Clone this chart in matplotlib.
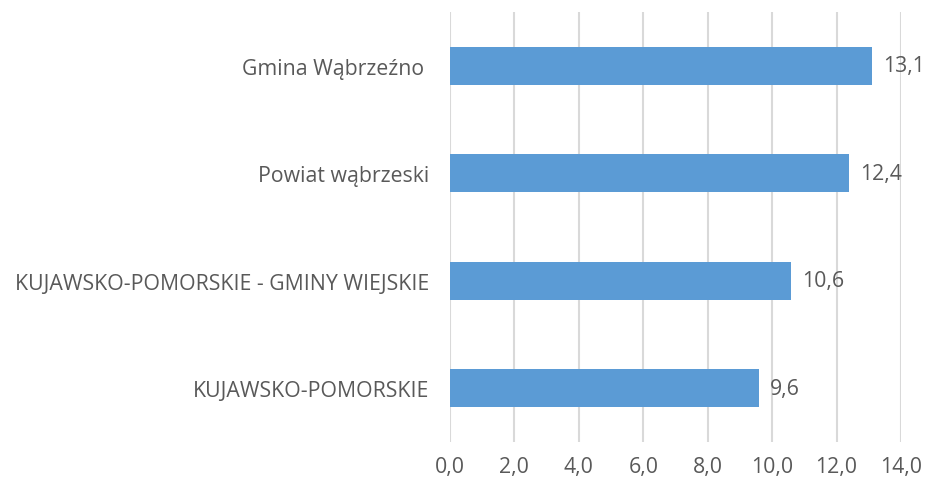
import matplotlib
matplotlib.use("Agg")
import matplotlib.pyplot as plt

categories = ["KUJAWSKO-POMORSKIE", "KUJAWSKO-POMORSKIE - GMINY WIEJSKIE",
              "Powiat wąbrzeski", "Gmina Wąbrzeźno "]
values = [9.6, 10.6, 12.4, 13.1]
xticks = [0, 2, 4, 6, 8, 10, 12, 14]

plt.rcParams['font.family'] = ['Open Sans', 'DejaVu Sans']
plt.rcParams['font.stretch'] = 'normal'
txt = '#595959'
fs = 15.3

fig = plt.figure(figsize=(9.32, 4.81), dpi=100)
ax = fig.add_axes([0.4828, 0.079, 0.4839, 0.894])

y = range(len(categories))
ax.barh(y, values, height=0.355, color='#5b9bd5', zorder=3)
for yi, v in zip(y, values):
    ax.annotate(f"{v:.1f}".replace('.', ','), (v, yi), xytext=(8, 0),
                textcoords='offset points', va='center', ha='left',
                fontsize=fs, color=txt)

ax.set_xlim(0, 14)
ax.set_ylim(-0.5, 3.5)
ax.set_xticks(xticks)
ax.set_xticklabels([f"{t:.1f}".replace('.', ',') for t in xticks], fontsize=fs, color=txt)
ax.set_yticks(list(y))
ax.set_yticklabels(categories, fontsize=fs, color=txt)
ax.tick_params(length=0, pad=10, axis='x')
ax.tick_params(length=0, pad=15, axis='y')
ax.grid(axis='x', color='#d9d9d9', linewidth=1.5, zorder=0)
for s in ax.spines.values():
    s.set_visible(False)

fig.savefig("out.png", dpi=100)
